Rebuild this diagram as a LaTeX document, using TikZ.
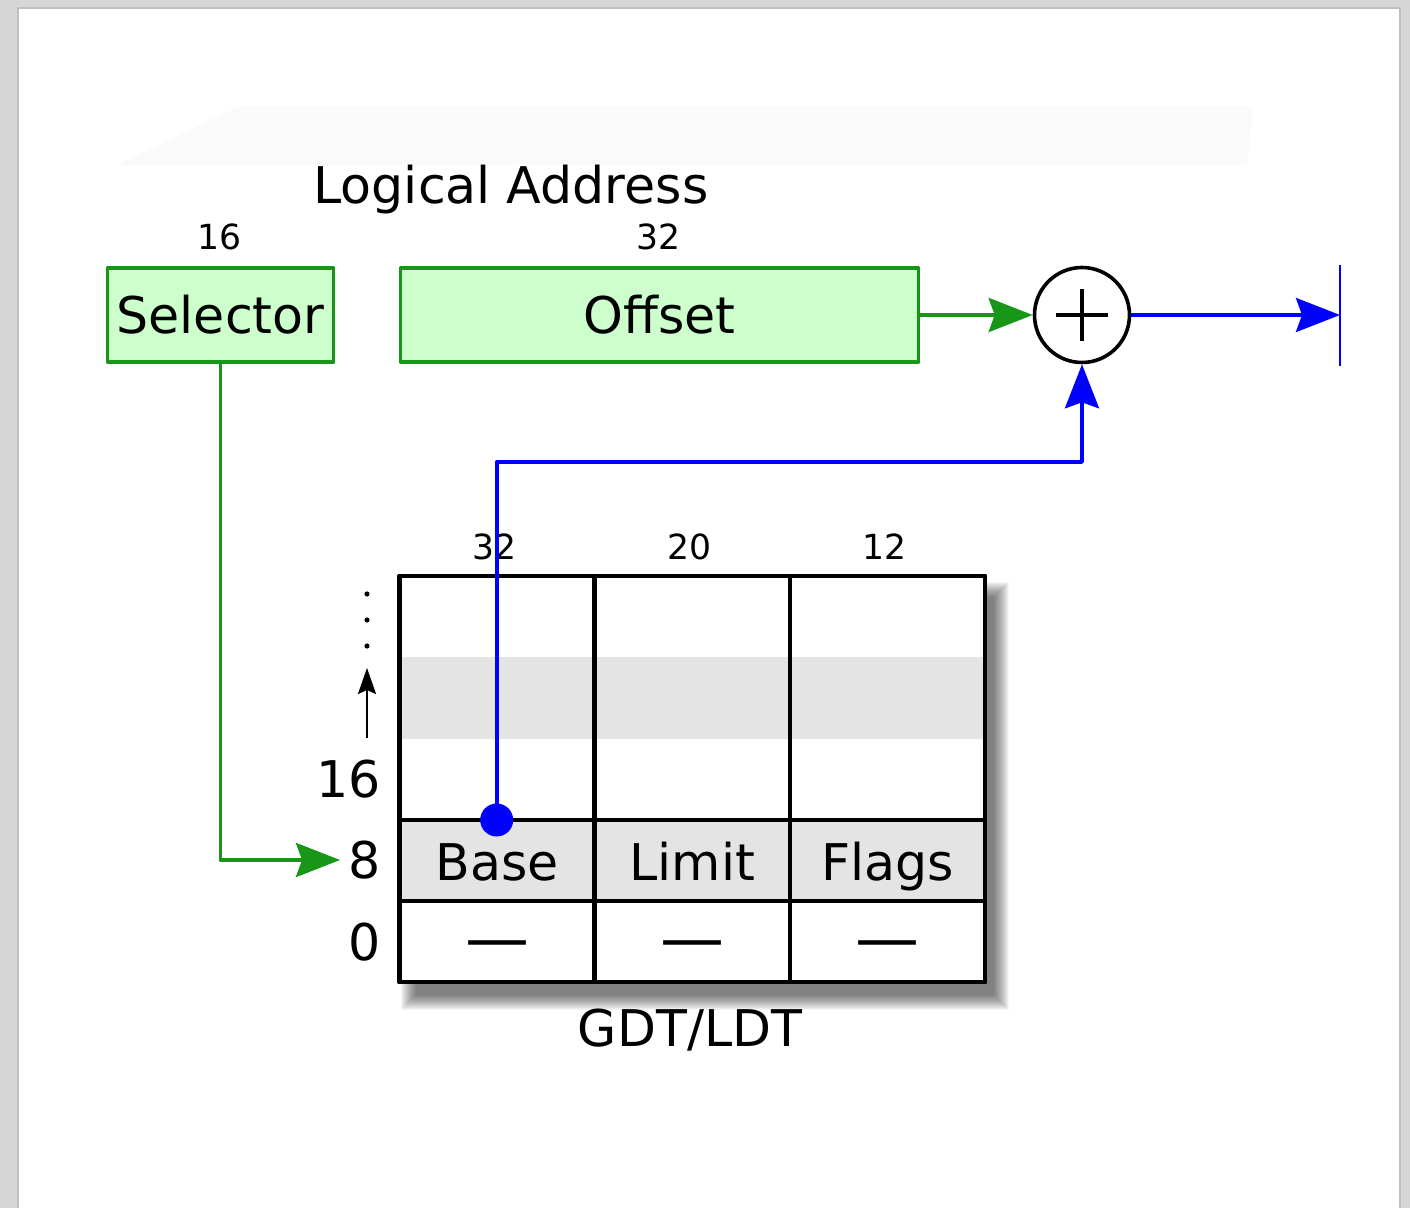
\documentclass[tikz,border=0pt]{standalone}
\usepackage{fontspec}
\setmainfont{DejaVu Sans}
\usetikzlibrary{arrows.meta,calc,positioning}
\definecolor{boxgreen}{RGB}{204,255,204}
\definecolor{linegreen}{RGB}{24,150,24}
\definecolor{cellgray}{RGB}{228,228,228}
\tikzset{
 big/.style={font=\fontsize{25.3}{30}\selectfont},
 small/.style={font=\fontsize{17.3}{21}\selectfont},
 field/.style={draw=linegreen,fill=boxgreen,line width=1.9pt,minimum height=47pt,inner sep=0pt,big},
 cell/.style={inner sep=0pt,anchor=base,big},
 bar/.style={inner sep=0pt,font=\fontsize{32}{36}\selectfont},
 tline/.style={line width=2.2pt},
 tip/.style={-{Stealth[length=22pt,width=17pt,inset=3pt]}},
 garrow/.style={tip,draw=linegreen,line width=1.9pt},
 barrow/.style={tip,draw=blue,line width=1.8pt}
}
\begin{document}
\begin{tikzpicture}[x=0.5pt,y=-0.5pt,line join=round]
\useasboundingbox (0,0) rectangle (1410,1208);
\fill[gray!32] (0,0) rectangle (1410,1208);
\fill[white] (18,8) rectangle (1400,1208);
\draw[gray!50,line width=1pt] (18,1208) -- (18,8) -- (1400,8) -- (1400,1208);
\fill[gray!4] (117,165) -- (238,107) -- (1253,107) -- (1247,165) -- cycle;

\node[big,anchor=base] (title) at (511,204) {Logical Address};
\node[field,minimum width=113pt] (sel) at (220.5,315) {Selector};
\node[field,minimum width=259pt] (off) at (659.5,315) {Offset};
\node[small] (w16) at (220,237) {16};
\node[small] (w32) at (659,237) {32};
\node[circle,draw,line width=1.8pt,minimum size=47.5pt,inner sep=0pt] (sum) at (1082,315) {};
\draw[line width=1.6pt] ($(sum.center)+(-26,0)$) -- ($(sum.center)+(26,0)$) ($(sum.center)+(0,-26)$) -- ($(sum.center)+(0,26)$);
\coordinate (out) at (1340,315);
\draw[blue,line width=1.1pt] (1340,265) -- (1340,366);
\draw[garrow] (off.east) -- (sum.west);
\draw[barrow] (sum.east) -- (out);

\foreach \k in {0,...,15} {\fill[black,opacity=0.04] (401+\k,582+\k) rectangle (1009-\k,1010-\k);}
\draw[tline,fill=white] (399.5,576) rectangle (985,982);
\fill[cellgray] (401,657) rectangle (983,739);
\fill[cellgray] (401,820) rectangle (983,901);
\foreach \x in {594.3,789.7} {\draw[tline] (\x,576) -- (\x,982);}
\foreach \y in {820,901} {\draw[tline] (399.5,\y) -- (985,\y);}
\draw[tline] (399.5,576) rectangle (985,982);
\foreach \n/\t/\w [count=\i] in {base/Base/32,limit/Limit/20,flags/Flags/12}{
 \node[cell] (\n) at ({399.5+195.2*(\i-0.5)},880) {\t};
 \node[bar] (d\i) at ({399.5+195.2*(\i-0.5)},951) {—};
 \node[small] (h\i) at ({397+195.2*(\i-0.5)},547) {\w};}
\node[big] (gdt) at (690,1030) {GDT/LDT};

\node[big,inner sep=0pt,anchor=east] (l16) at (381,779) {16};
\node[big,inner sep=0pt,anchor=east] (l8) at (381,860) {8};
\node[big,inner sep=0pt,anchor=east] (l0) at (381,942) {0};
\draw[line width=1.1pt,-{Stealth[length=13pt,width=9pt,inset=2pt]}] (367,738) -- (367,668);
\foreach \y in {594,620,646} {\fill (367,\y) circle (1.3pt);}

\draw[garrow,shorten >=4pt] (sel.south) |- (l8.west);
\node[circle,fill=blue,minimum size=16.5pt,inner sep=0pt] (dot) at (496.7,820) {};
\coordinate (kink) at (1082,462);
\draw[barrow] (dot.center) |- (kink) -- (sum.south);
\end{tikzpicture}
\end{document}
